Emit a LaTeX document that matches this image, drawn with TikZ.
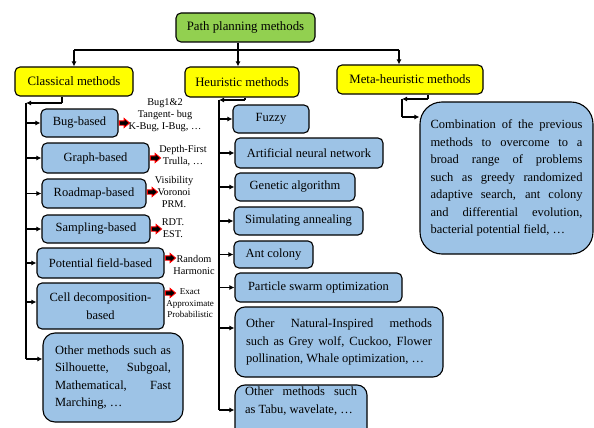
\documentclass[tikz,border=0pt]{standalone}
\usepackage{fontspec}
\setmainfont{Liberation Serif}
\usetikzlibrary{arrows.meta,calc}
\definecolor{gfill}{HTML}{92D050}
\definecolor{yfill}{HTML}{FFFF00}
\definecolor{bfill}{HTML}{9DC3E6}
\newcommand{\jl}[2]{\makebox[#1pt][s]{#2}}
\begin{document}
\begin{tikzpicture}[x=1pt,y=-1pt,
 box/.style={draw, line width=1.1pt, rounded corners=5pt, inner sep=0pt, align=center},
 head/.style={box, font=\fontsize{12.8}{15}\selectfont},
 bbox/.style={box, fill=bfill, font=\fontsize{12.5}{17.5}\selectfont},
 ln/.style={line width=1.1pt},
 arr/.style={ln, -{Latex[length=5pt,width=5pt]}},
 side/.style={inner sep=0pt, align=center, font=\fontsize{10.3}{12}\selectfont},
 small/.style={inner sep=0pt, align=center, font=\fontsize{9}{11.5}\selectfont},
 redarrow/.pic={\filldraw[draw=red, fill=black, line width=0.9pt] (0.8,-2.2) -- (5.5,-2.2) -- (5.5,-4.6) -- (11,0) -- (5.5,4.6) -- (5.5,2.2) -- (0.8,2.2) -- cycle;}
]
\useasboundingbox (0,0) rectangle (594,428);
\clip (0,0) rectangle (594,428);

% headings
\node[head, fill=gfill, minimum width=139, minimum height=29] (pp) at (245.5,27.5) {Path planning methods};
\node[head, fill=yfill, minimum width=118, minimum height=29] (cl) at (74,81.5) {Classical methods};
\node[head, fill=yfill, minimum width=114, minimum height=30] (he) at (242,82) {Heuristic methods};
\node[head, fill=yfill, minimum width=146, minimum height=29] (me) at (410,79.5) {Meta-heuristic methods};

% classical
\node[bbox, minimum width=77, minimum height=28] (bug) at (79.5,123) {Bug-based};
\node[bbox, minimum width=107, minimum height=30] (graph) at (95.5,158) {Graph-based};
\node[bbox, minimum width=104, minimum height=29] (road) at (94,193.5) {Roadmap-based};
\node[bbox, minimum width=108, minimum height=28] (samp) at (96,229) {Sampling-based};
\node[bbox, minimum width=127, minimum height=30] (pot) at (100.5,263) {Potential field-based};
\node[bbox, minimum width=127, minimum height=46] (cell) at (100.5,306) {Cell decomposition-\\based};
\node[bbox, rounded corners=12pt, align=left, minimum width=140, minimum height=89] (oth) at (113,377.5)
 {\jl{116}{Other methods such as}\\\jl{116}{Silhouette, Subgoal,}\\\jl{116}{Mathematical, Fast}\\Marching, …};

% side labels
\node[side] (bugt) at (165,115) {Bug1\&2\\Tangent- bug\\K-Bug, I-Bug, …};
\node[side] (grapht) at (183,156) {Depth-First\\Trulla, …};
\node[side] (roadt) at (174,191.5) {Visibility\\Voronoi\\PRM.};
\node[side] (sampt) at (173,228) {RDT.\\EST.};
\node[side] (pott) at (194,265) {Random\\Harmonic};
\node[small] (cellt) at (190,303.5) {Exact\\Approximate\\Probabilistic};

\pic at (bug.east) {redarrow};
\pic at (graph.east) {redarrow};
\pic at ($(road.east)+(0,-1.5)$) {redarrow};
\pic at (samp.east) {redarrow};
\pic at ($(pot.east)+(0,-5)$) {redarrow};
\pic at ($(cell.east)+(0,-13)$) {redarrow};

% heuristic
\node[bbox, minimum width=76, minimum height=28] (fuzzy) at (271,119) {Fuzzy};
\node[bbox, minimum width=148, minimum height=30] (ann) at (309,153) {Artificial neural network};
\node[bbox, minimum width=120, minimum height=28] (gen) at (295,187) {Genetic algorithm};
\node[bbox, minimum width=129, minimum height=28] (sim) at (298.5,221) {Simulating annealing};
\node[bbox, minimum width=79, minimum height=27] (ant) at (273.5,254.5) {Ant colony};
\node[bbox, minimum width=167, minimum height=29] (pso) at (318.5,287.5) {Particle swarm optimization};
\node[bbox, rounded corners=10pt, align=left, minimum width=208, minimum height=70] (nat) at (339,342)
 {\jl{186}{Other Natural-Inspired methods}\\\jl{186}{such as Grey wolf, Cuckoo, Flower}\\pollination, Whale optimization, …};
\node[bbox, rounded corners=10pt, align=left, minimum width=132, minimum height=60, text depth=0pt] (tabu) at (301,415)
 {\jl{112}{Other methods such}\\as Tabu, wavelate, …\\[12pt]};

% meta
\node[bbox, rounded corners=22pt, align=left, minimum width=173, minimum height=152] (comb) at (506.5,178)
 {\jl{152}{Combination of the previous}\\\jl{152}{methods to overcome to a}\\\jl{152}{broad range of problems}\\\jl{152}{such as greedy randomized}\\\jl{152}{adaptive search, ant colony}\\\jl{152}{and differential evolution,}\\bacterial potential field, …};

% top connectors
\coordinate (hl) at (74,50);
\coordinate (hj) at (238,50);
\coordinate (hr) at (399,50);
\draw[ln] (hl) -- (hr);
\draw[ln] (pp.south -| hj) -- (hj);
\draw[arr] (hl) -- (cl.north -| hl);
\draw[arr] (hj) -- (he.north -| hj);
\draw[arr] (hr) -- (me.north -| hr);

% classical connectors
\coordinate (cs) at (62,103);
\coordinate (ct) at (26,103);
\coordinate (cc) at (26,302);
\coordinate (cb) at (26,359);
\draw[ln] (cl.south -| cs) -- (cs);
\draw[arr] (cs) -- (ct);
\draw[ln] (ct) -- (cb);
\foreach \n in {bug,graph,road,samp,pot} \draw[arr] (ct |- \n.west) -- (\n.west);
\draw[arr] (cc) -- (cc -| cell.west);
\draw[arr] (cb) -- (cb -| oth.west);

% heuristic connectors
\coordinate (hs) at (245,100);
\coordinate (ht) at (219,100);
\coordinate (hn) at (219,328);
\coordinate (hb) at (219,410);
\draw[ln] (he.south -| hs) -- (hs);
\draw[arr] (hs) -- (ht);
\draw[ln] (ht) -- (hb);
\foreach \n in {fuzzy,ann,gen,sim,ant,pso} \draw[arr] (ht |- \n.west) -- (\n.west);
\draw[arr] (hn) -- (hn -| nat.west);
\draw[arr] (hb) -- (hb -| tabu.west);

% meta connectors
\coordinate (ms) at (428,99);
\coordinate (mt) at (402,99);
\coordinate (mb) at (402,117);
\draw[ln] (me.south -| ms) -- (ms);
\draw[arr] (ms) -- (mt);
\draw[ln] (mt) -- (mb);
\draw[arr] (mb) -- (mb -| comb.west);
\end{tikzpicture}
\end{document}
